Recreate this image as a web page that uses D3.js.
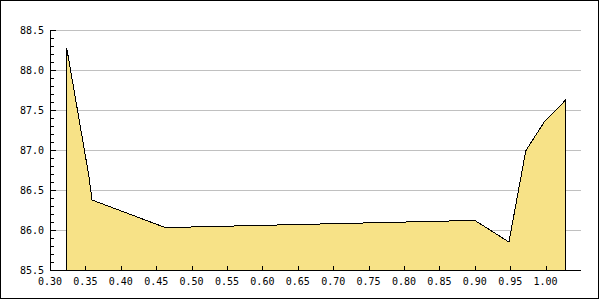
<!DOCTYPE html>
<html>
<head>
<meta charset="utf-8">
<script src="https://cdn.jsdelivr.net/npm/d3@7"></script>
<style>
  body { margin: 0; background: #fff; }
  text { font-family: "DejaVu Sans Mono", monospace; font-size: 10px; fill: #000; }
</style>
</head>
<body>
<svg width="600" height="300"></svg>
<script>
// values
const xValues = [0.3235, 0.3546, 0.3594, 0.4631, 0.90, 0.9482, 0.972, 0.998, 1.0278];
const yValues = [88.28, 86.69, 86.375, 86.03, 86.12, 85.85, 86.99, 87.35, 87.62];
const xTicks = [0.30, 0.35, 0.40, 0.45, 0.50, 0.55, 0.60, 0.65, 0.70, 0.75, 0.80, 0.85, 0.90, 0.95, 1.00];
const yTicks = [85.5, 86.0, 86.5, 87.0, 87.5, 88.0, 88.5];

const points = xValues.map((x, i) => ({ x: x, y: yValues[i] }));

const margin = { left: 50, right: 19, top: 30, bottom: 30 };
const width = 600;
const height = 300;

const svg = d3.select("svg");

svg.append("rect")
  .attr("x", 0.5)
  .attr("y", 0.5)
  .attr("width", 598)
  .attr("height", 298)
  .attr("fill", "#fff")
  .attr("stroke", "#000");

const x = d3.scaleLinear()
  .domain([0.30, 1.05])
  .range([margin.left, width - margin.right]);

const y = d3.scaleLinear()
  .domain([85.5, 88.5])
  .range([height - margin.bottom, margin.top]);

// horizontal grid
svg.append("g")
  .selectAll("line")
  .data(yTicks.slice(1))
  .enter()
  .append("line")
  .attr("x1", margin.left)
  .attr("x2", width - margin.right)
  .attr("y1", d => Math.round(y(d)) + 0.5)
  .attr("y2", d => Math.round(y(d)) + 0.5)
  .attr("stroke", "#c0c0c0");

// area under the series
const area = d3.area()
  .x(d => x(d.x))
  .y0(y(85.5))
  .y1(d => y(d.y));

svg.append("path")
  .datum(points)
  .attr("d", area)
  .attr("fill", "#f7e287")
  .attr("stroke", "#000")
  .attr("stroke-width", 1)
  .attr("shape-rendering", "crispEdges");

// y axis, ticks pointing inward
const yAxis = svg.append("g")
  .attr("transform", `translate(${margin.left + 0.5},0)`)
  .call(d3.axisRight(y)
    .tickValues(d3.range(85.5, 88.501, 0.1))
    .tickSize(3)
    .tickFormat(""));
yAxis.select(".domain").attr("d", `M0,${y(88.5)}V${y(85.5)}`);
yAxis.selectAll(".tick")
  .filter(d => yTicks.some(t => Math.abs(t - d) < 1e-6))
  .select("line")
  .attr("x2", 5);
yAxis.selectAll(".tick line").attr("shape-rendering", "crispEdges");

svg.append("g")
  .selectAll("text")
  .data(yTicks)
  .enter()
  .append("text")
  .attr("x", 44)
  .attr("y", d => y(d) + 4)
  .attr("text-anchor", "end")
  .text(d => d3.format(".1f")(d));

// x axis, ticks pointing inward
const xAxis = svg.append("g")
  .attr("transform", `translate(0,${height - margin.bottom + 0.5})`)
  .call(d3.axisTop(x)
    .tickValues(xTicks)
    .tickSize(5)
    .tickFormat(""));
xAxis.select(".domain").attr("d", `M${margin.left},0H${width - margin.right}`);
xAxis.selectAll(".tick line").attr("shape-rendering", "crispEdges");

svg.append("g")
  .selectAll("text")
  .data(xTicks)
  .enter()
  .append("text")
  .attr("x", d => x(d))
  .attr("y", 285)
  .attr("text-anchor", "middle")
  .text(d => d3.format(".2f")(d));
</script>
</body>
</html>
